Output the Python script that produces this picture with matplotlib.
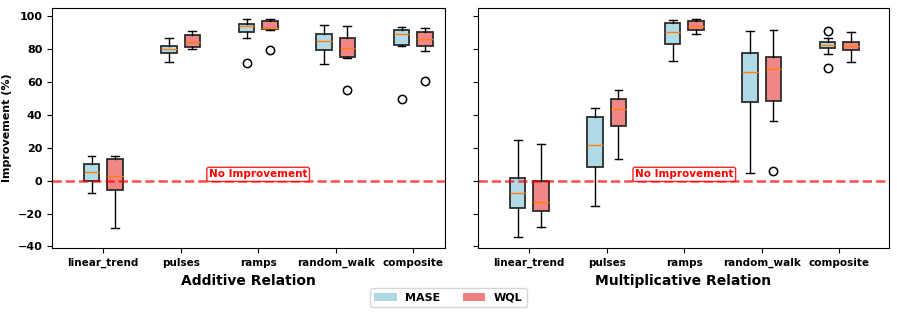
import matplotlib
matplotlib.use("Agg")
import matplotlib.pyplot as plt
from matplotlib.patches import Patch

categories = ["linear_trend", "pulses", "ramps", "random_walk", "composite"]
panels = ["Additive Relation", "Multiplicative Relation"]

# five-number summaries: whislo, q1, med, q3, whishi
add_mase_lo = [-7.3, 71.9, 86.8, 71.1, 81.6]
add_mase_q1 = [0.0, 77.3, 90.5, 79.6, 82.2]
add_mase_med = [5.5, 80.0, 93.7, 85.0, 88.9]
add_mase_q3 = [10.3, 81.6, 95.2, 88.9, 91.3]
add_mase_hi = [15.2, 86.7, 98.2, 94.7, 93.3]
add_mase_fl = [[], [], [71.7], [], [49.9]]

add_wql_lo = [-28.9, 80.2, 91.6, 74.5, 79.0]
add_wql_q1 = [-5.5, 81.2, 91.9, 74.9, 82.0]
add_wql_med = [3.0, 84.0, 92.7, 80.4, 85.8]
add_wql_q3 = [13.1, 88.5, 97.3, 86.8, 90.1]
add_wql_hi = [15.0, 90.7, 98.4, 93.7, 92.5]
add_wql_fl = [[], [], [79.4], [54.9], [60.6]]

mul_mase_lo = [-34.2, -15.2, 72.7, 4.8, 77.2]
mul_mase_q1 = [-16.8, 8.5, 82.8, 47.9, 80.6]
mul_mase_med = [-7.5, 21.8, 90.5, 66.1, 82.2]
mul_mase_q3 = [1.8, 38.4, 95.8, 77.8, 84.0]
mul_mase_hi = [24.6, 44.2, 97.9, 91.1, 87.0]
mul_mase_fl = [[], [], [], [], [90.9, 68.5]]

mul_wql_lo = [-27.9, 13.1, 89.3, 36.1, 72.3]
mul_wql_q1 = [-18.4, 33.1, 91.7, 48.7, 79.2]
mul_wql_med = [-13.3, 43.6, 93.9, 68.1, 81.8]
mul_wql_q3 = [0.0, 49.9, 97.0, 74.9, 84.2]
mul_wql_hi = [22.2, 55.2, 98.0, 91.3, 90.3]
mul_wql_fl = [[], [], [], [5.8], []]


def _stats(lo, q1, med, q3, hi, fl):
    return [
        dict(whislo=a, q1=b, med=c, q3=d, whishi=e, fliers=f)
        for a, b, c, d, e, f in zip(lo, q1, med, q3, hi, fl)
    ]


series = [
    (
        _stats(add_mase_lo, add_mase_q1, add_mase_med, add_mase_q3, add_mase_hi, add_mase_fl),
        _stats(add_wql_lo, add_wql_q1, add_wql_med, add_wql_q3, add_wql_hi, add_wql_fl),
    ),
    (
        _stats(mul_mase_lo, mul_mase_q1, mul_mase_med, mul_mase_q3, mul_mase_hi, mul_mase_fl),
        _stats(mul_wql_lo, mul_wql_q1, mul_wql_med, mul_wql_q3, mul_wql_hi, mul_wql_fl),
    ),
]

fig = plt.figure(figsize=(8.97, 3.16), dpi=100)
ax1 = fig.add_axes([0.058, 0.215, 0.438, 0.76])
ax2 = fig.add_axes([0.533, 0.215, 0.458, 0.76], sharey=ax1)
xlims = [(-0.66, 4.41), (-0.66, 4.64)]

for ax, (mase, wql), title, xl in zip([ax1, ax2], series, panels, xlims):
    x = list(range(len(categories)))
    for stats, off, color in [(mase, -0.15, "lightblue"), (wql, 0.15, "lightcoral")]:
        ax.bxp(
            stats,
            positions=[i + off for i in x],
            widths=0.2,
            patch_artist=True,
            manage_ticks=False,
            boxprops=dict(facecolor=color, edgecolor="#222222", linewidth=1.3, alpha=0.95),
            medianprops=dict(color="#ff7f0e", linewidth=1.0),
            whiskerprops=dict(color="black", linewidth=1.0),
            capprops=dict(color="black", linewidth=1.0),
            flierprops=dict(marker="o", markerfacecolor="none", markeredgecolor="black",
                            markersize=6, markeredgewidth=1.1),
        )
    ax.axhline(0, color="red", linestyle="--", linewidth=1.8, alpha=0.7)
    ax.text(2, 3.8, "No Improvement", ha="center", va="center", color="red",
            fontsize=7.5, fontweight="bold",
            bbox=dict(boxstyle="round,pad=0.2", facecolor="white", edgecolor="red", alpha=0.85))
    ax.set_xticks(x)
    ax.set_xticklabels(categories, fontsize=7.5, fontweight="bold")
    ax.set_xlim(*xl)
    ax.set_xlabel(title, fontsize=10, fontweight="bold")
    ax.tick_params(axis="y", labelsize=8)

ax1.set_ylim(-41, 105)
ax1.set_yticks([-40, -20, 0, 20, 40, 60, 80, 100])
for lbl in ax1.get_yticklabels():
    lbl.set_fontweight("bold")
ax1.set_ylabel("Improvement (%)", fontsize=8, fontweight="bold")
plt.setp(ax2.get_yticklabels(), visible=False)

handles = [Patch(facecolor="lightblue", label="MASE"), Patch(facecolor="lightcoral", label="WQL")]
fig.legend(handles=handles, loc="lower center", ncol=2, bbox_to_anchor=(0.5, 0.01),
           prop=dict(size=8, weight="bold"), columnspacing=2.0, handlelength=2.0)

fig.savefig("out.png", dpi=100)
